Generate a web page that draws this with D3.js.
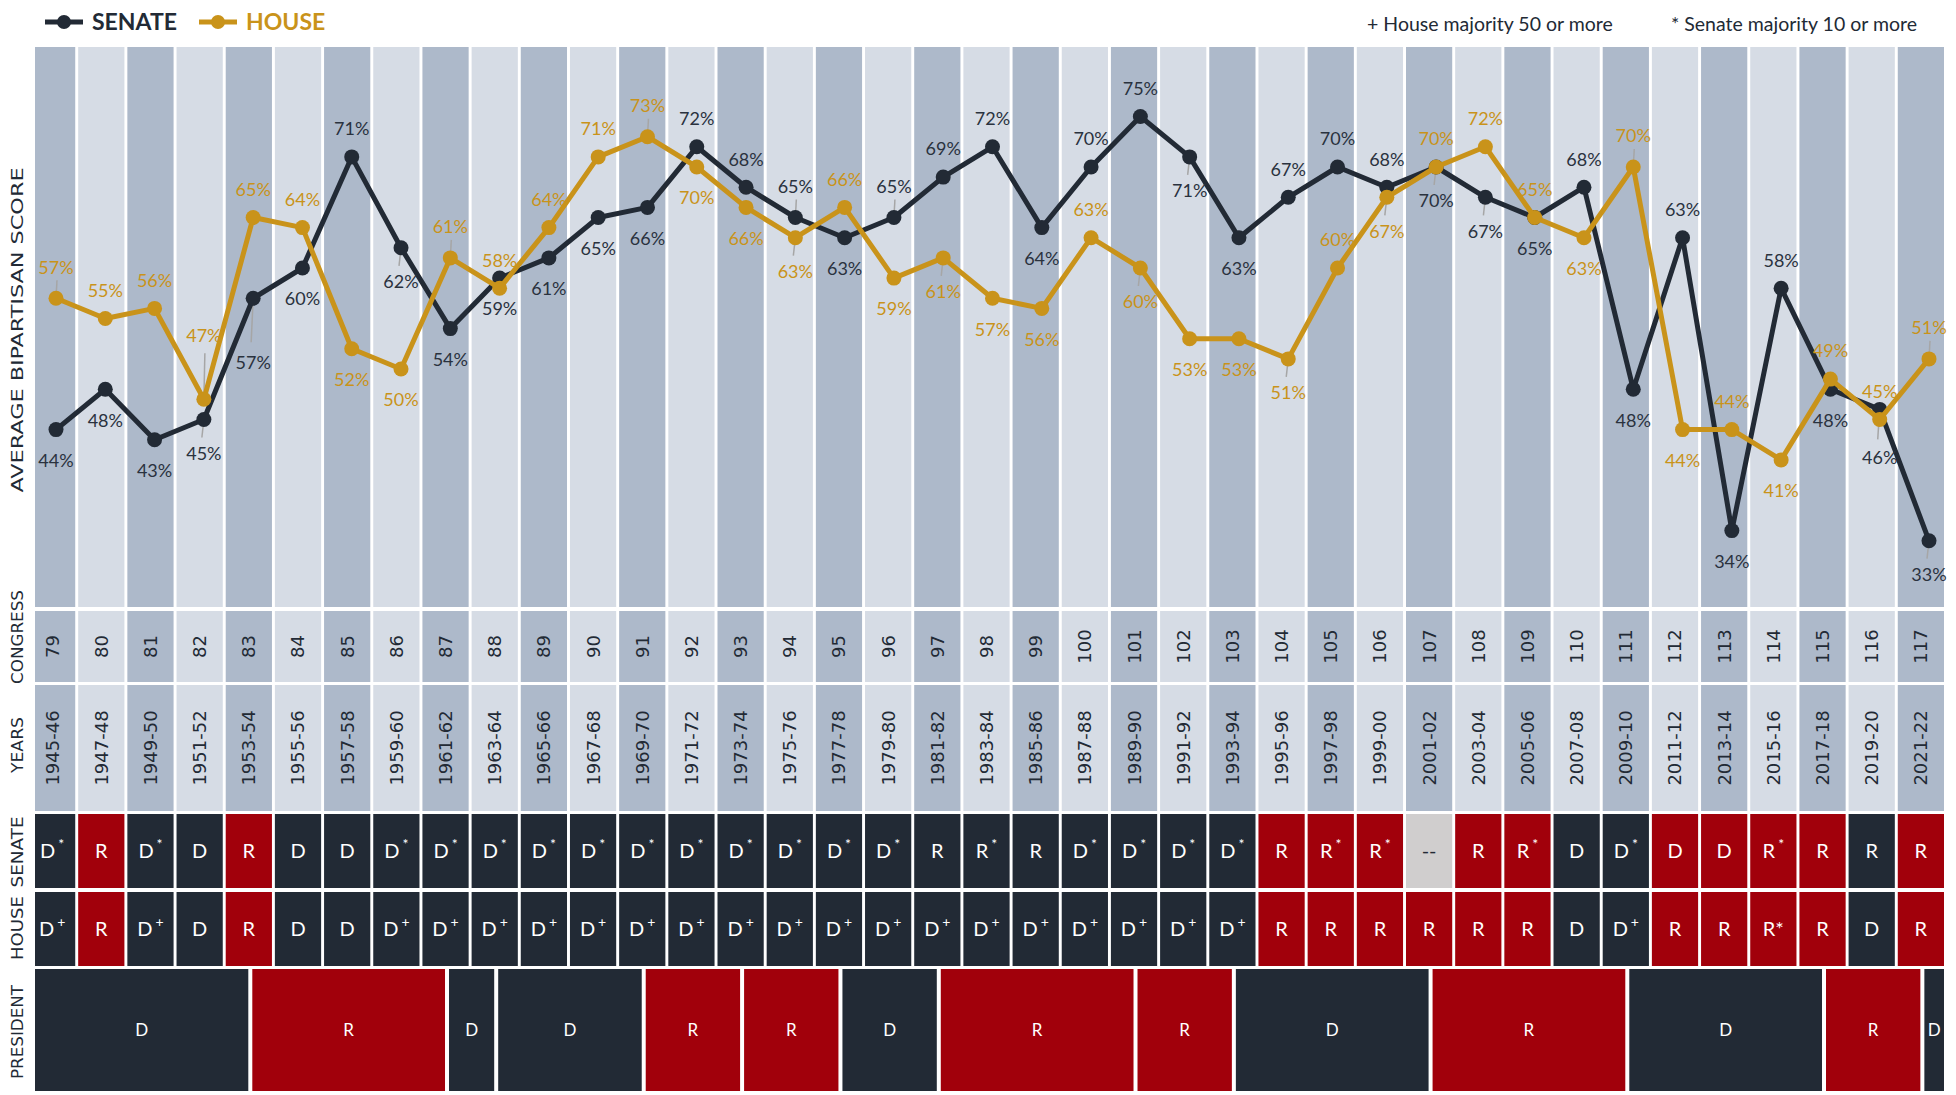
<!DOCTYPE html>
<html lang="en">
<head>
<meta charset="UTF-8">
<title>Average bipartisan score by Congress</title>
<script src="https://d3js.org/d3.v7.min.js"></script>
<style>
  body { margin: 0; background: #fff; }
  svg { display: block; }
</style>
</head>
<body>
<div id="chart"></div>
<script>
// Congress numbers and the two years each one covers
const congresses = [79, 80, 81, 82, 83, 84, 85, 86, 87, 88, 89, 90, 91, 92, 93, 94, 95, 96, 97, 98,
  99, 100, 101, 102, 103, 104, 105, 106, 107, 108, 109, 110, 111, 112, 113, 114, 115, 116, 117];
const yearLabels = ["1945-46", "1947-48", "1949-50", "1951-52", "1953-54", "1955-56", "1957-58", "1959-60",
  "1961-62", "1963-64", "1965-66", "1967-68", "1969-70", "1971-72", "1973-74", "1975-76", "1977-78",
  "1979-80", "1981-82", "1983-84", "1985-86", "1987-88", "1989-90", "1991-92", "1993-94", "1995-96",
  "1997-98", "1999-00", "2001-02", "2003-04", "2005-06", "2007-08", "2009-10", "2011-12", "2013-14",
  "2015-16", "2017-18", "2019-20", "2021-22"];

// average bipartisan score, in percent
const senateScore = [44, 48, 43, 45, 57, 60, 71, 62, 54, 59, 61, 65, 66, 72, 68, 65, 63, 65, 69, 72,
  64, 70, 75, 71, 63, 67, 70, 68, 70, 67, 65, 68, 48, 63, 34, 58, 48, 46, 33];
const houseScore = [57, 55, 56, 47, 65, 64, 52, 50, 61, 58, 64, 71, 73, 70, 66, 63, 66, 59, 61, 57,
  56, 63, 60, 53, 53, 51, 60, 67, 70, 72, 65, 63, 70, 44, 44, 41, 49, 45, 51];

// majority party (* = Senate majority 10 or more, + = House majority 50 or more)
const senateMajority = ["D*", "R", "D*", "D", "R", "D", "D", "D*", "D*", "D*", "D*", "D*", "D*", "D*",
  "D*", "D*", "D*", "D*", "R", "R*", "R", "D*", "D*", "D*", "D*", "R", "R*", "R*", "--", "R", "R*",
  "D", "D*", "D", "D", "R*", "R", "R", "R"];
const houseMajority = ["D+", "R", "D+", "D", "R", "D", "D", "D+", "D+", "D+", "D+", "D+", "D+", "D+",
  "D+", "D+", "D+", "D+", "D+", "D+", "D+", "D+", "D+", "D+", "D+", "R", "R", "R", "R", "R", "R",
  "D", "D+", "R", "R", "R*", "R", "D", "R"];

// presidents: party and how many calendar years of the grid each one fills
const presidentParty = ["D", "R", "D", "D", "R", "R", "D", "R", "R", "D", "R", "D", "R", "D"];
const presidentYears = [9, 8, 2, 6, 4, 4, 4, 8, 4, 8, 8, 8, 4, 1];
const firstYear = 1945;

const W = 1956, H = 1095;
const plot = { top: 47, bottom: 607, left: 35, right: 1944 };
const rows = {
  congress: [611, 682],
  years: [685, 811],
  senate: [814, 888],
  house: [892, 966],
  president: [969, 1091]
};

const navy = "#222a35", red = "#a1000b", gold = "#c9931a", tie = "#d0cece";
const shadeDark = "#adb9ca", shadeLight = "#d6dce5";
const partyColor = { D: navy, R: red };

const svg = d3.select("#chart").append("svg")
  .attr("width", W)
  .attr("height", H)
  .style("font-family", "Lato, 'Open Sans', sans-serif");

svg.append("rect").attr("width", W).attr("height", H).attr("fill", "#fff");

svg.append("clipPath").attr("id", "clip")
  .append("rect")
  .attr("x", plot.left).attr("y", 0)
  .attr("width", plot.right - plot.left).attr("height", H);

// scales
const x = d3.scaleBand().domain(congresses).range([29, plot.right]).paddingInner(0.06);
const xPt = d3.scalePoint().domain(congresses).range([56, 1929]);
const y = d3.scaleLinear().domain([30, 80]).range([571, 66]);
const yearX = d3.scaleLinear()
  .domain([firstYear, firstYear + congresses.length * 2])
  .range([29, 29 + x.step() * congresses.length]);

const shade = (d, i) => i % 2 === 0 ? shadeDark : shadeLight;

const grid = svg.append("g").attr("clip-path", "url(#clip)");

// striped background of the plot, then Congress and Years rows
[[plot.top, plot.bottom], rows.congress, rows.years].forEach(r => {
  grid.selectAll(null)
    .data(congresses)
    .enter().append("rect")
    .attr("x", d => x(d))
    .attr("y", r[0])
    .attr("width", x.bandwidth())
    .attr("height", r[1] - r[0])
    .attr("fill", shade);
});

function rotatedText(sel, cx, cy) {
  sel.attr("transform", (d, i) => `translate(${cx(d, i)},${cy}) rotate(-90)`)
    .attr("text-anchor", "middle")
    .attr("dy", "0.36em");
}

grid.selectAll(".cong")
  .data(congresses)
  .enter().append("text")
  .attr("class", "cong")
  .call(rotatedText, d => x(d) + x.bandwidth() / 2, (rows.congress[0] + rows.congress[1]) / 2)
  .style("font-family", "'DejaVu Sans', sans-serif")
  .attr("font-size", 18)
  .attr("fill", navy)
  .text(d => d);

grid.selectAll(".yrs")
  .data(yearLabels)
  .enter().append("text")
  .attr("class", "yrs")
  .call(rotatedText, (d, i) => x(congresses[i]) + x.bandwidth() / 2, (rows.years[0] + rows.years[1]) / 2)
  .style("font-family", "'DejaVu Sans', sans-serif")
  .attr("font-size", 18)
  .attr("fill", navy)
  .text(d => d);

// party letter with its majority marker; the row's own marker is raised
function partyCell(row, values, fills, supMark) {
  const g = grid.append("g");
  g.selectAll("rect")
    .data(values)
    .enter().append("rect")
    .attr("x", (d, i) => x(congresses[i]))
    .attr("y", row[0])
    .attr("width", x.bandwidth())
    .attr("height", row[1] - row[0])
    .attr("fill", (d, i) => fills[i]);

  const t = g.selectAll("text")
    .data(values)
    .enter().append("text")
    .attr("x", (d, i) => x(congresses[i]) + x.bandwidth() / 2)
    .attr("y", (row[0] + row[1]) / 2 + 7)
    .attr("text-anchor", "middle")
    .attr("font-size", 20)
    .attr("fill", d => d === "--" ? navy : "#fff");

  t.each(function(d) {
    const el = d3.select(this);
    if (d === "--" || d.length === 1 || d[1] !== supMark) {
      el.text(d);
      return;
    }
    el.append("tspan").text(d[0]);
    el.append("tspan").attr("dx", 3).attr("dy", -9).attr("font-size", 14).text(d.slice(1));
  });
}

// the Senate row is shaded by the House majority, grey for the tie
const senateFill = senateMajority.map((d, i) => d === "--" ? tie : partyColor[houseMajority[i][0]]);
const houseFill = houseMajority.map(d => partyColor[d[0]]);
partyCell(rows.senate, senateMajority, senateFill, "*");
partyCell(rows.house, houseMajority, houseFill, "+");

// president blocks laid out on a per-year grid
let yr = firstYear;
const presidents = presidentParty.map((p, i) => {
  const d = { party: p, from: yr, to: yr + presidentYears[i] };
  yr = d.to;
  return d;
});

const pres = grid.append("g");
pres.selectAll("rect")
  .data(presidents)
  .enter().append("rect")
  .attr("x", d => yearX(d.from) + 2)
  .attr("y", rows.president[0])
  .attr("width", d => yearX(d.to) - yearX(d.from) - 4)
  .attr("height", rows.president[1] - rows.president[0])
  .attr("fill", d => partyColor[d.party]);

pres.selectAll("text")
  .data(presidents)
  .enter().append("text")
  .attr("x", d => (Math.max(yearX(d.from) + 2, plot.left) + Math.min(yearX(d.to) - 2, plot.right)) / 2)
  .attr("y", (rows.president[0] + rows.president[1]) / 2 + 6)
  .attr("text-anchor", "middle")
  .attr("font-size", 17)
  .attr("fill", "#fff")
  .text(d => d.party);

// lines
const line = d3.line().x((d, i) => xPt(congresses[i])).y(d => y(d));

function drawSeries(values, color) {
  svg.append("path")
    .datum(values)
    .attr("d", line)
    .attr("fill", "none")
    .attr("stroke", color)
    .attr("stroke-width", 5)
    .attr("stroke-linejoin", "round");
  svg.append("g").selectAll("circle")
    .data(values)
    .enter().append("circle")
    .attr("cx", (d, i) => xPt(congresses[i]))
    .attr("cy", d => y(d))
    .attr("r", 7.5)
    .attr("fill", color);
}

// data label placement: a/b above/below, l adds a leader, m/B push further below, A further above
const senatePlace = ["b", "b", "b", "bl", "B", "b", "a", "bl", "b", "b", "b", "b", "b", "a", "a", "al",
  "b", "al", "a", "a", "b", "a", "a", "bl", "b", "a", "a", "a", "bl", "bl", "b", "a", "b", "a", "b", "a",
  "b", "m", "bl"];
const housePlace = ["al", "a", "a", "A", "a", "a", "b", "b", "al", "a", "a", "a", "al", "b", "b", "bl",
  "a", "b", "bl", "b", "b", "a", "bl", "b", "b", "bl", "a", "bl", "a", "a", "a", "b", "al", "b", "a", "b",
  "a", "a", "al"];
const placeOffset = { a: -28, al: -31, A: -64, b: 31, bl: 34, m: 48, B: 64 };
const leaderEnd = { al: -18, A: -46, bl: 18, m: 30, B: 44 };

function drawLeaders(values, place) {
  svg.append("g").selectAll("line")
    .data(values.map((v, i) => ({ v, i, p: place[i] })).filter(d => leaderEnd[d.p] !== undefined))
    .enter().append("line")
    .attr("x1", d => xPt(congresses[d.i]))
    .attr("x2", d => xPt(congresses[d.i]) + (leaderEnd[d.p] > 0 ? -2 : 1))
    .attr("y1", d => y(d.v))
    .attr("y2", d => y(d.v) + leaderEnd[d.p])
    .attr("stroke", "#a6a6a6")
    .attr("stroke-width", 1.5);
}

function drawLabels(values, place, color) {
  svg.append("g").selectAll("text")
    .data(values)
    .enter().append("text")
    .attr("x", (d, i) => xPt(congresses[i]))
    .attr("y", (d, i) => y(d) + placeOffset[place[i]])
    .attr("dy", "0.35em")
    .attr("text-anchor", "middle")
    .attr("font-size", 18)
    .attr("fill", color)
    .text(d => d + "%");
}

drawLeaders(senateScore, senatePlace);
drawLeaders(houseScore, housePlace);
drawSeries(senateScore, navy);
drawSeries(houseScore, gold);
drawLabels(senateScore, senatePlace, "#2a323e");
drawLabels(houseScore, housePlace, gold);

// side titles
const sideTitles = [
  { text: "AVERAGE BIPARTISAN SCORE", cy: 330, len: 325 },
  { text: "CONGRESS", cy: 637, len: 94 },
  { text: "YEARS", cy: 745, len: 56 },
  { text: "SENATE", cy: 852, len: 71 },
  { text: "HOUSE", cy: 928, len: 64 },
  { text: "PRESIDENT", cy: 1032, len: 94 }
];
svg.append("g").selectAll("text")
  .data(sideTitles)
  .enter().append("text")
  .attr("transform", d => `translate(17,${d.cy}) rotate(-90)`)
  .attr("text-anchor", "middle")
  .attr("dy", "0.36em")
  .attr("textLength", d => d.len)
  .attr("lengthAdjust", "spacingAndGlyphs")
  .style("font-family", "'DejaVu Sans', sans-serif")
  .attr("font-size", 16)
  .attr("fill", navy)
  .text(d => d.text);

// legend
const legend = [
  { name: "SENATE", color: navy, x: 45 },
  { name: "HOUSE", color: gold, x: 199 }
];
const lg = svg.append("g").selectAll("g")
  .data(legend)
  .enter().append("g")
  .attr("transform", d => `translate(${d.x},22)`);
lg.append("line").attr("x1", 0).attr("x2", 38)
  .attr("stroke", d => d.color).attr("stroke-width", 5);
lg.append("circle").attr("cx", 19).attr("r", 7).attr("fill", d => d.color);
lg.append("text")
  .attr("x", 47).attr("y", 8)
  .attr("font-size", 23).attr("font-weight", "bold")
  .attr("fill", d => d.color)
  .text(d => d.name);

// footnotes, top right
svg.append("text").attr("x", 1367).attr("y", 31)
  .attr("font-size", 19.5).attr("fill", navy)
  .text("+ House majority 50 or more");
svg.append("text").attr("x", 1671).attr("y", 31)
  .attr("font-size", 19.5).attr("fill", navy)
  .text("* Senate majority 10 or more");
</script>
</body>
</html>
